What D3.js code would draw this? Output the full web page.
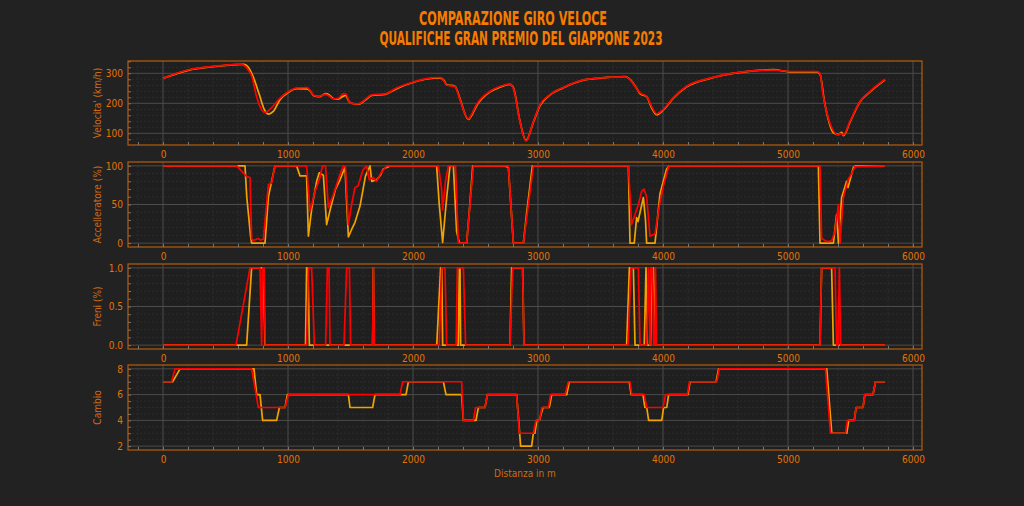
<!DOCTYPE html>
<html>
<head>
<meta charset="utf-8">
<script src="https://cdn.jsdelivr.net/npm/d3@7"></script>
<style>
  html, body { margin: 0; padding: 0; background: #222222; }
  svg { display: block; }
  text { font-family: "Liberation Sans Narrow", "DejaVu Sans Condensed", sans-serif; }
</style>
</head>
<body>
<div id="chart"></div>
<script>
// distance ticks (m)
var distTicks = [0, 1000, 2000, 3000, 4000, 5000, 6000];

// speed (km/h) - [distance, value]; A = yellow lap, B = red lap
var speedA = [[0,283],[200,310],[400,322],[590,329],[650,330],[680,322],[720,290],[770,230],[810,180],[845,164],[880,172],[936,212],[1003,237],[1069,249],[1149,248],[1180,240],[1203,226],[1250,222],[1300,232],[1330,228],[1363,216],[1400,214],[1443,224],[1460,226],[1490,205],[1509,200],[1563,197],[1616,210],[1669,226],[1776,230],[1869,249],[2003,270],[2109,281],[2216,285],[2250,275],[2269,262],[2336,257],[2360,235],[2376,215],[2443,146],[2470,160],[2509,192],[2616,238],[2696,254],[2776,263],[2803,252],[2856,140],[2904,76],[2963,137],[3016,192],[3096,228],[3203,252],[3363,277],[3496,284],[3696,289],[3736,280],[3789,250],[3816,232],[3869,222],[3909,185],[3949,162],[4003,178],[4083,217],[4189,255],[4376,283],[4616,303],[4883,312],[5016,305],[5229,305],[5256,297],[5290,210],[5320,150],[5363,102],[5403,96],[5429,103],[5443,92],[5496,137],[5576,205],[5656,238],[5776,278]];
var speedB = [[0,283],[200,311],[400,323],[590,330],[640,328],[680,312],[710,290],[750,220],[790,178],[816,170],[850,178],[936,217],[1003,239],[1069,251],[1149,252],[1180,242],[1203,228],[1250,223],[1300,230],[1330,224],[1363,215],[1400,216],[1443,232],[1465,230],[1490,205],[1509,200],[1563,198],[1616,212],[1669,228],[1776,231],[1869,251],[2003,271],[2109,282],[2216,286],[2250,273],[2269,260],[2336,256],[2360,232],[2376,212],[2443,148],[2470,164],[2509,196],[2616,240],[2696,256],[2776,264],[2803,250],[2856,138],[2904,74],[2963,139],[3016,195],[3096,229],[3203,253],[3363,278],[3496,285],[3696,288],[3736,279],[3789,249],[3816,235],[3869,223],[3909,190],[3949,165],[4003,180],[4083,219],[4189,257],[4376,284],[4616,304],[4883,311],[5016,306],[5229,306],[5256,300],[5280,230],[5309,172],[5363,108],[5403,94],[5416,100],[5443,95],[5496,140],[5576,206],[5656,240],[5776,280]];

// throttle (%)
var throttleA = [[0,100],[656,100],[670,60],[700,10],[709,0],[816,0],[843,60],[869,80],[896,100],[1069,100],[1096,87],[1149,87],[1163,9],[1190,45],[1229,80],[1250,91],[1283,88],[1309,24],[1340,45],[1380,70],[1416,82],[1456,98],[1483,8],[1510,18],[1536,27],[1576,48],[1620,87],[1656,100],[1670,80],[1709,82],[1740,88],[1763,96],[1816,100],[2189,100],[2210,50],[2237,1],[2270,60],[2296,100],[2323,100],[2349,15],[2371,0],[2429,0],[2450,40],[2478,100],[2736,100],[2763,98],[2803,0],[2883,0],[2910,40],[2955,100],[3723,100],[3736,0],[3770,0],[3789,33],[3800,28],[3843,59],[3860,30],[3869,0],[3936,0],[3976,64],[4029,96],[4050,100],[5243,100],[5256,0],[5363,0],[5389,37],[5403,0],[5429,59],[5469,80],[5480,72],[5523,98],[5540,100],[5776,100]];
var throttleB = [[0,100],[590,100],[670,86],[696,85],[709,6],[720,3],[760,6],[780,4],[803,5],[843,76],[869,78],[896,100],[1149,100],[1176,41],[1216,67],[1256,85],[1275,100],[1300,100],[1323,46],[1363,63],[1416,89],[1443,100],[1460,98],[1483,24],[1509,50],[1536,72],[1560,74],[1600,95],[1629,100],[1650,82],[1680,85],[1709,80],[1740,90],[1790,100],[2203,100],[2229,70],[2237,43],[2260,80],[2283,100],[2340,100],[2363,0],[2429,0],[2483,100],[2763,100],[2803,0],[2883,0],[2923,50],[2963,100],[3723,100],[3749,24],[3776,37],[3803,50],[3829,67],[3848,70],[3869,60],[3896,9],[3936,12],[3970,48],[4003,74],[4043,98],[4050,100],[5256,100],[5269,6],[5309,2],[5349,3],[5376,15],[5403,50],[5416,0],[5443,59],[5483,83],[5509,90],[5536,99],[5776,100]];

// brake (0-1)
var brakeA = [[0,0],[669,0],[709,1],[803,1],[816,0],[1140,0],[1149,1],[1160,1],[1171,0],[1677,0],[1683,1],[1688,0],[2190,0],[2221,1],[2230,1],[2237,0],[2362,0],[2371,1],[2376,1],[2381,0],[2776,0],[2789,1],[2877,1],[2888,0],[3709,0],[3731,1],[3763,1],[3776,0],[3850,0],[3864,1],[3875,0],[3900,0],[3910,1],[3923,1],[3944,0],[5256,0],[5269,1],[5349,1],[5363,0],[5776,0]];
var brakeB = [[0,0],[584,0],[696,1],[776,1],[789,0],[797,1],[808,1],[818,0],[1149,0],[1163,1],[1189,1],[1211,0],[1301,0],[1315,1],[1328,1],[1336,0],[1448,0],[1469,1],[1491,1],[1501,0],[1677,0],[1683,1],[1690,0],[2210,0],[2229,1],[2256,1],[2269,0],[2345,0],[2355,1],[2403,1],[2421,0],[2776,0],[2797,1],[2877,1],[2888,0],[3720,0],[3744,1],[3803,1],[3816,0],[3870,0],[3883,1],[3896,0],[3903,1],[3915,1],[3925,0],[3935,0],[3940,1],[3948,0],[5256,0],[5269,1],[5376,1],[5389,0],[5400,0],[5411,1],[5421,0],[5776,0]];

// gear
var gearA = [[0,7],[77,7],[136,8],[728,8],[749,6],[776,6],[797,4],[909,4],[931,5],[976,5],[995,6],[1483,6],[1496,5],[1677,5],[1696,6],[1944,6],[1963,7],[2243,7],[2264,6],[2389,6],[2403,4],[2504,4],[2523,5],[2576,5],[2595,6],[2829,6],[2861,2],[2949,2],[2963,3],[2975,3],[2990,4],[3011,4],[3040,5],[3090,5],[3110,6],[3230,6],[3250,7],[3730,7],[3745,6],[3840,6],[3855,5],[3870,5],[3885,4],[3990,4],[4005,5],[4030,5],[4045,6],[4200,6],[4216,7],[4425,7],[4445,8],[5310,8],[5350,3],[5470,3],[5485,4],[5530,4],[5545,5],[5600,5],[5615,6],[5680,6],[5700,7],[5776,7]];
var gearB = [[0,7],[69,7],[96,8],[709,8],[763,5],[976,5],[1003,6],[1896,6],[1917,7],[2389,7],[2403,4],[2483,4],[2501,5],[2576,5],[2595,6],[2829,6],[2851,3],[2963,3],[2984,4],[3011,4],[3032,5],[3083,5],[3101,6],[3216,6],[3243,7],[3736,7],[3750,6],[3850,6],[3870,5],[4000,5],[4020,6],[4195,6],[4212,7],[4430,7],[4450,8],[5300,8],[5340,3],[5460,3],[5475,4],[5530,4],[5545,5],[5600,5],[5615,6],[5680,6],[5700,7],[5776,7]];

var speedTicks = [100, 200, 300];
var throttleTicks = [0, 50, 100];
var brakeTicks = [0, 0.5, 1];
var gearTicks = [2, 4, 6, 8];

var W = 1024, H = 506;
var colA = "#f2a200", colB = "#ff0000";
var orange = "#e47400";
var condensed = "'Liberation Sans Narrow','DejaVu Sans Condensed',sans-serif";

var svg = d3.select("#chart").append("svg").attr("width", W).attr("height", H);
svg.append("rect").attr("width", W).attr("height", H).attr("fill", "#222222");

var x = d3.scaleLinear().domain([-280, 6072]).range([128, 922]);

var panels = [
  { label: "Velocita' (km/h)", top: 61, bottom: 145, domain: [61, 341], ticks: speedTicks, minor: 20, fmt: d3.format("d"), a: speedA, b: speedB, curve: d3.curveMonotoneX },
  { label: "Accelleratore (%)", top: 162, bottom: 247, domain: [-5, 105], ticks: throttleTicks, minor: 10, fmt: d3.format("d"), a: throttleA, b: throttleB, curve: d3.curveLinear },
  { label: "Freni (%)", top: 264, bottom: 349, domain: [-0.05, 1.05], ticks: brakeTicks, minor: 0.1, fmt: d3.format(".1f"), a: brakeA, b: brakeB, curve: d3.curveLinear },
  { label: "Cambio", top: 365, bottom: 450, domain: [1.7, 8.3], ticks: gearTicks, minor: 0.5, fmt: d3.format("d"), a: gearA, b: gearB, curve: d3.curveLinear }
];

panels.forEach(function(p, i) {
  var y = d3.scaleLinear().domain(p.domain).range([p.bottom, p.top]);
  var g = svg.append("g");
  var clipId = "clip" + i;
  svg.append("clipPath").attr("id", clipId).append("rect")
    .attr("x", x.range()[0]).attr("y", p.top)
    .attr("width", x.range()[1] - x.range()[0]).attr("height", p.bottom - p.top);

  g.append("rect")
    .attr("x", x.range()[0]).attr("y", p.top)
    .attr("width", x.range()[1] - x.range()[0]).attr("height", p.bottom - p.top)
    .attr("fill", "#1f1f1f");

  // minor grid
  var xMinor = d3.range(-200, 6072, 200).filter(function(d) { return d % 1000 !== 0; });
  var yMinor = d3.range(Math.ceil(p.domain[0] / p.minor) * p.minor, p.domain[1], p.minor)
    .filter(function(d) { return p.ticks.every(function(t) { return Math.abs(t - d) > 1e-6; }); });

  g.selectAll(".xm").data(xMinor).enter().append("line")
    .attr("x1", function(d) { return x(d); }).attr("x2", function(d) { return x(d); })
    .attr("y1", p.top).attr("y2", p.bottom)
    .attr("stroke", "#303030").attr("stroke-dasharray", "2,2").attr("stroke-width", 0.8);
  g.selectAll(".ym").data(yMinor).enter().append("line")
    .attr("x1", x.range()[0]).attr("x2", x.range()[1])
    .attr("y1", function(d) { return y(d); }).attr("y2", function(d) { return y(d); })
    .attr("stroke", "#303030").attr("stroke-dasharray", "2,2").attr("stroke-width", 0.8);

  // major grid
  g.selectAll(".xg").data(distTicks).enter().append("line")
    .attr("x1", function(d) { return x(d); }).attr("x2", function(d) { return x(d); })
    .attr("y1", p.top).attr("y2", p.bottom)
    .attr("stroke", "#4c4c4c").attr("stroke-width", 1);
  g.selectAll(".yg").data(p.ticks).enter().append("line")
    .attr("x1", x.range()[0]).attr("x2", x.range()[1])
    .attr("y1", function(d) { return y(d); }).attr("y2", function(d) { return y(d); })
    .attr("stroke", "#4c4c4c").attr("stroke-width", 1);

  // lines
  var line = d3.line()
    .x(function(d) { return x(d[0]); })
    .y(function(d) { return y(d[1]); })
    .curve(p.curve);
  var lg = g.append("g").attr("clip-path", "url(#" + clipId + ")");
  lg.append("path").datum(p.a).attr("d", line)
    .attr("fill", "none").attr("stroke", colA).attr("stroke-width", 1.7).attr("stroke-linejoin", "round");
  lg.append("path").datum(p.b).attr("d", line)
    .attr("fill", "none").attr("stroke", colB).attr("stroke-width", 1.7).attr("stroke-linejoin", "round");

  // frame
  g.append("rect")
    .attr("x", x.range()[0]).attr("y", p.top)
    .attr("width", x.range()[1] - x.range()[0]).attr("height", p.bottom - p.top)
    .attr("fill", "none").attr("stroke", "#b85c08").attr("stroke-width", 1.2);

  // x axis: small ticks + labels
  var xAxisTicks = d3.axisBottom(x).tickValues(d3.range(-200, 6072, 200)).tickSize(-3).tickFormat("");
  var xt = g.append("g").attr("transform", "translate(0," + p.bottom + ")").call(xAxisTicks);
  xt.select(".domain").remove();
  xt.selectAll("line").attr("stroke", "#777777");

  var xAxis = d3.axisBottom(x).tickValues(distTicks).tickSize(0).tickPadding(6).tickFormat(d3.format("d"));
  var xa = g.append("g").attr("transform", "translate(0," + p.bottom + ")").call(xAxis);
  xa.select(".domain").remove();
  xa.selectAll("text").attr("fill", orange).attr("font-size", 10).attr("font-family", condensed);

  // y axis
  var yAxisTicks = d3.axisLeft(y).tickValues(yMinor.concat(p.ticks)).tickSize(-3).tickFormat("");
  var yt = g.append("g").attr("transform", "translate(" + x.range()[0] + ",0)").call(yAxisTicks);
  yt.select(".domain").remove();
  yt.selectAll("line").attr("stroke", "#777777");

  var yAxis = d3.axisLeft(y).tickValues(p.ticks).tickSize(0).tickPadding(5).tickFormat(p.fmt);
  var ya = g.append("g").attr("transform", "translate(" + x.range()[0] + ",0)").call(yAxis);
  ya.select(".domain").remove();
  ya.selectAll("text").attr("fill", orange).attr("font-size", 10).attr("font-family", condensed);

  // y label
  g.append("text")
    .attr("transform", "translate(101," + ((p.top + p.bottom) / 2) + ") rotate(-90)")
    .attr("text-anchor", "middle")
    .attr("fill", "#d06c10").attr("font-size", 10)
    .text(p.label);
});

// x label
svg.append("text")
  .attr("x", (x.range()[0] + x.range()[1]) / 2).attr("y", 477)
  .attr("text-anchor", "middle").attr("fill", "#d06c10").attr("font-size", 10)
  .text("Distanza in m");

// title
svg.append("text")
  .attr("x", 513).attr("y", 25).attr("text-anchor", "middle")
  .attr("fill", "#f57c00").attr("font-size", 19).attr("font-weight", "bold")
  .attr("textLength", 188).attr("lengthAdjust", "spacingAndGlyphs")
  .text("COMPARAZIONE GIRO VELOCE");
svg.append("text")
  .attr("x", 521).attr("y", 45).attr("text-anchor", "middle")
  .attr("fill", "#f57c00").attr("font-size", 19).attr("font-weight", "bold")
  .attr("textLength", 283).attr("lengthAdjust", "spacingAndGlyphs")
  .text("QUALIFICHE GRAN PREMIO DEL GIAPPONE 2023");
</script>
</body>
</html>
